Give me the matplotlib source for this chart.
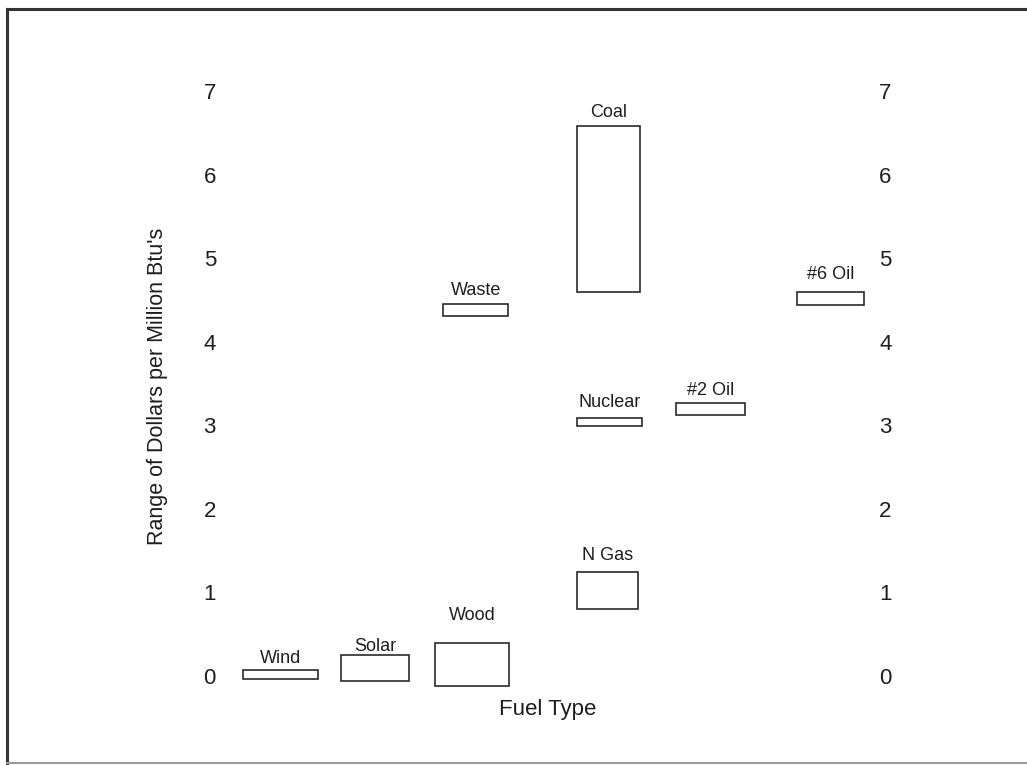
import matplotlib
matplotlib.use("Agg")
import matplotlib.pyplot as plt
from matplotlib.lines import Line2D

plt.rcParams['font.family'] = ['Liberation Sans', 'DejaVu Sans']

# Data
fuels = ["Wind", "Solar", "Wood", "Waste", "Coal", "Nuclear", "N Gas", "#2 Oil", "#6 Oil"]
low = [-0.04, -0.06, -0.12, 4.31, 4.59, 2.99, 0.80, 3.12, 4.44]
high = [0.07, 0.25, 0.40, 4.45, 6.58, 3.09, 1.24, 3.27, 4.59]

# Layout (horizontal placement of each range box and its label)
x_pos = [1.00, 2.03, 3.08, 3.12, 4.56, 4.57, 4.55, 5.67, 6.97]
widths = [0.82, 0.74, 0.80, 0.71, 0.68, 0.71, 0.67, 0.75, 0.72]
label_gap_pt = [5, 3, 16.5, 6.5, 6.5, 8, 8.6, 5.8, 10]
y_ticks = [0, 1, 2, 3, 4, 5, 6, 7]

W, H = 1027, 765
fig = plt.figure(figsize=(W / 100, H / 100), dpi=100)
fig.patch.set_facecolor("white")

ax_left, ax_right = 225, 870
ax_top, ax_bot = 66, 701
ax = fig.add_axes([ax_left / W, (H - ax_bot) / H, (ax_right - ax_left) / W, (ax_bot - ax_top) / H])
ax.set_xlim(0.4, 7.4)
ax.set_ylim(-0.3, 7.3)

edge = "#2a2a2a"
heights = [h - l for h, l in zip(high, low)]
ax.bar(x_pos, heights, width=widths, bottom=low, facecolor="white",
       edgecolor=edge, linewidth=1.2, align="center")

for name, x, top, gap in zip(fuels, x_pos, high, label_gap_pt):
    ax.annotate(name, xy=(x, top), xytext=(0, gap), textcoords="offset points",
                ha="center", va="baseline", fontsize=13, color="#1e1e1e")

for s in ax.spines.values():
    s.set_visible(False)
ax.set_xticks([])
ax.set_yticks(y_ticks)
ax.set_yticklabels([str(t) for t in y_ticks])
ax.tick_params(axis="y", length=0, labelsize=16, labelcolor="#1e1e1e",
               left=True, right=True, labelleft=True, labelright=True, pad=6.5)

ax.set_ylabel("Range of Dollars per Million Btu's", fontsize=15.5, color="#1e1e1e", va="center")
ax.yaxis.set_label_coords((158 - ax_left) / (ax_right - ax_left), (ax_bot - 386) / (ax_bot - ax_top))
ax.set_xlabel("Fuel Type", fontsize=16, color="#1e1e1e", va="center")
ax.xaxis.set_label_coords((548 - ax_left) / (ax_right - ax_left), (ax_bot - 710) / (ax_bot - ax_top))

# Outer frame (top and left dark, bottom faint, right edge cut off)
x0, x1 = 7 / W, 1.0
y_top, y_bot = (H - 9) / H, (H - 763) / H
fig.add_artist(Line2D([x0, x1], [y_top, y_top], transform=fig.transFigure, color="#333333", linewidth=2.2))
fig.add_artist(Line2D([x0, x0], [y_bot, y_top], transform=fig.transFigure, color="#333333", linewidth=2.2))
fig.add_artist(Line2D([x0, x1], [y_bot, y_bot], transform=fig.transFigure, color="#9a9a9a", linewidth=1.5))

fig.savefig("out.png", dpi=100, facecolor="white")
